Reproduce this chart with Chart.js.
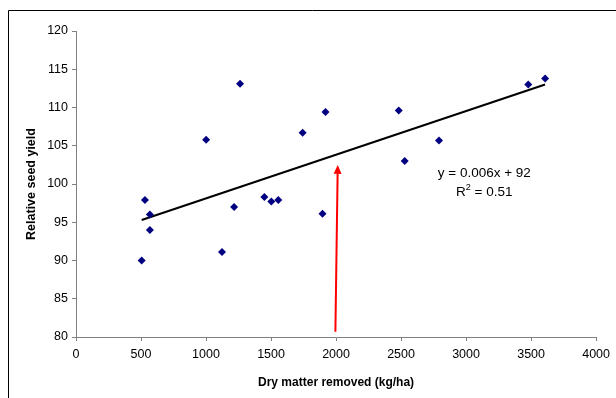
<!DOCTYPE html>
<html>
<head>
<meta charset="utf-8">
<script src="https://cdn.jsdelivr.net/npm/chart.js@4"></script>
<style>
  html, body { margin: 0; padding: 0; background: #fff; }
  #wrap { width: 616px; height: 398px; }
</style>
</head>
<body>
<div id="wrap"><canvas id="chart"></canvas></div>
<script>
// dry matter removed (kg/ha) vs relative seed yield
const dryMatter = [505, 530, 568, 568, 1001, 1123, 1216, 1262, 1449, 1502, 1556, 1743, 1896, 1919, 2482, 2528, 2792, 3478, 3608];
const seedYield = [90.0, 97.9, 96.0, 94.0, 105.8, 91.1, 97.0, 113.1, 98.3, 97.7, 97.9, 106.7, 96.1, 109.4, 109.6, 103.0, 105.7, 113.0, 113.8];

// fitted trend line, end points
const trendX = [505, 3608];
const trendY = [95.3, 113.0];

// red arrow
const arrowX = [1995, 2013];
const arrowY = [80.7, 102.5];

const equationText = ['y = 0.006x + 92', 'R', '2', ' = 0.51'];
const equationAt = { x: 3140, y: 101.4 };

const axisGrey = '#808080';
const font = 'Liberation Sans, Arial, sans-serif';

const overlay = {
  id: 'overlay',
  afterDraw(chart) {
    const { ctx, scales: { x, y } } = chart;
    ctx.save();

    // outer frame (only left and top visible)
    ctx.strokeStyle = '#000';
    ctx.lineWidth = 1;
    ctx.beginPath();
    ctx.moveTo(8.5, 398);
    ctx.lineTo(8.5, 10.5);
    ctx.lineTo(616, 10.5);
    ctx.stroke();

    // arrow
    const x0 = x.getPixelForValue(arrowX[0]), y0 = y.getPixelForValue(arrowY[0]);
    const x1 = x.getPixelForValue(arrowX[1]), y1 = y.getPixelForValue(arrowY[1]);
    const ang = Math.atan2(y1 - y0, x1 - x0);
    const headLen = 9, headW = 4;
    ctx.strokeStyle = '#ff0000';
    ctx.fillStyle = '#ff0000';
    ctx.lineWidth = 2;
    ctx.beginPath();
    ctx.moveTo(x0, y0);
    ctx.lineTo(x1 - headLen * Math.cos(ang), y1 - headLen * Math.sin(ang));
    ctx.stroke();
    ctx.beginPath();
    ctx.moveTo(x1, y1);
    ctx.lineTo(x1 - headLen * Math.cos(ang) + headW * Math.sin(ang), y1 - headLen * Math.sin(ang) - headW * Math.cos(ang));
    ctx.lineTo(x1 - headLen * Math.cos(ang) - headW * Math.sin(ang), y1 - headLen * Math.sin(ang) + headW * Math.cos(ang));
    ctx.closePath();
    ctx.fill();

    // equation
    const ex = x.getPixelForValue(equationAt.x);
    const ey = y.getPixelForValue(equationAt.y);
    ctx.fillStyle = '#000';
    ctx.font = '13.5px ' + font;
    ctx.textAlign = 'center';
    ctx.textBaseline = 'middle';
    ctx.fillText(equationText[0], ex, ey);

    // R² line with a raised 2
    const r = equationText[1], sup = equationText[2], rest = equationText[3];
    const wR = ctx.measureText(r).width;
    const wRest = ctx.measureText(rest).width;
    ctx.font = '9px ' + font;
    const wSup = ctx.measureText(sup).width;
    const total = wR + wSup + wRest;
    let cx = ex - total / 2;
    const ly = ey + 19;
    ctx.textAlign = 'left';
    ctx.font = '13.5px ' + font;
    ctx.fillText(r, cx, ly);
    cx += wR;
    ctx.font = '9px ' + font;
    ctx.fillText(sup, cx, ly - 5);
    cx += wSup;
    ctx.font = '13.5px ' + font;
    ctx.fillText(rest, cx, ly);
    ctx.restore();
  }
};

new Chart(document.getElementById('chart'), {
  type: 'scatter',
  data: {
    datasets: [
      {
        label: 'Relative seed yield',
        data: dryMatter.map((v, i) => ({ x: v, y: seedYield[i] })),
        pointStyle: 'rectRot',
        pointRadius: 4,
        backgroundColor: '#000080',
        borderColor: '#000080',
        borderWidth: 0,
        order: 1,
      },
      {
        type: 'line',
        label: 'Trend',
        data: trendX.map((v, i) => ({ x: v, y: trendY[i] })),
        borderColor: '#000',
        borderWidth: 2,
        pointRadius: 0,
        fill: false,
        order: 2,
      },
    ],
  },
  options: {
    responsive: true,
    maintainAspectRatio: false,
    animation: false,
    layout: { padding: { top: 31, right: 19, left: 0, bottom: 0 } },
    plugins: {
      legend: { display: false },
      tooltip: { enabled: false },
    },
    scales: {
      x: {
        type: 'linear',
        min: 0,
        max: 4000,
        afterFit: (s) => { s.height = 61; },
        ticks: {
          stepSize: 500,
          padding: 6,
          color: '#000',
          font: { family: font, size: 12.5 },
          callback: (v) => String(v),
        },
        grid: { drawOnChartArea: false, tickLength: 4, color: axisGrey },
        border: { color: axisGrey, width: 1 },
        title: {
          display: true,
          text: 'Dry matter removed (kg/ha)',
          color: '#000',
          font: { family: font, size: 12, weight: 'bold' },
          padding: { top: 0, bottom: 8 },
        },
      },
      y: {
        min: 80,
        max: 120,
        afterFit: (s) => { s.width = 76; },
        ticks: { stepSize: 5, padding: 4, color: '#000', font: { family: font, size: 12.5 } },
        grid: { drawOnChartArea: false, tickLength: 4, color: axisGrey },
        border: { color: axisGrey, width: 1 },
        title: {
          display: true,
          text: 'Relative seed yield',
          color: '#000',
          font: { family: font, size: 12.5, weight: 'bold' },
          padding: { top: 24, bottom: 0 },
        },
      },
    },
  },
  plugins: [overlay],
});
</script>
</body>
</html>
